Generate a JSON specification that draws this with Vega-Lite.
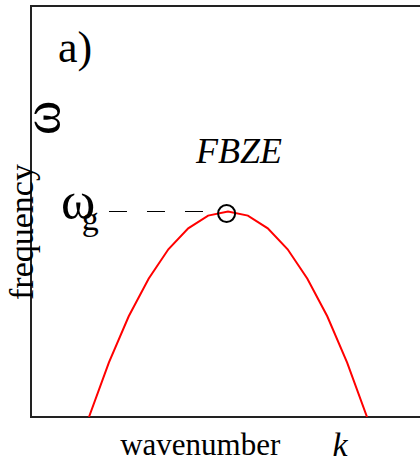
{
  "$schema": "https://vega.github.io/schema/vega-lite/v6.json",
  "autosize": "none",
  "padding": {"left": 31, "top": 6, "right": 0, "bottom": 44},
  "width": 394,
  "height": 411,
  "config": {
    "view": {"stroke": "#222", "strokeWidth": 2},
    "text": {"font": "Liberation Serif", "color": "black"}
  },
  "datasets": {
    "curve": [
      {"k": -1.0, "omega": 0.0},
      {"k": -0.857, "omega": 0.265},
      {"k": -0.714, "omega": 0.49},
      {"k": -0.571, "omega": 0.673},
      {"k": -0.429, "omega": 0.816},
      {"k": -0.286, "omega": 0.918},
      {"k": -0.143, "omega": 0.98},
      {"k": 0.0, "omega": 1.0},
      {"k": 0.143, "omega": 0.98},
      {"k": 0.286, "omega": 0.918},
      {"k": 0.429, "omega": 0.816},
      {"k": 0.571, "omega": 0.673},
      {"k": 0.714, "omega": 0.49},
      {"k": 0.857, "omega": 0.265},
      {"k": 1.0, "omega": 0.0}
    ],
    "edge": [{"k": -0.01, "omega": 0.99}],
    "guide": [{"k0": -0.856, "k1": -0.07, "omega": 1.0}],
    "labels": [
      {"text": "a)", "k": -1.1, "omega": 1.727, "kind": "panel"},
      {"text": "ω", "k": -1.079, "omega": 0.968, "kind": "symbol"},
      {"text": "g", "k": -0.99, "omega": 0.91, "kind": "sub"},
      {"text": "wavenumber", "k": -0.2, "omega": -0.185, "kind": "xtitle"},
      {"text": "FBZE", "k": 0.079, "omega": 1.236, "kind": "edge"},
      {"text": "k", "k": 0.806, "omega": -0.19, "kind": "var"},
      {"text": "ω", "k": -1.331, "omega": 1.455, "kind": "vsymbol"},
      {"text": "frequency", "k": -1.475, "omega": 0.9, "kind": "ytitle"}
    ]
  },
  "encoding": {
    "x": {"field": "k", "type": "quantitative", "scale": {"domain": [-1.417, 1.417], "nice": false, "zero": false}, "axis": null},
    "y": {"field": "omega", "type": "quantitative", "scale": {"domain": [0, 2], "nice": false}, "axis": null}
  },
  "layer": [
    {
      "data": {"name": "curve"},
      "mark": {"type": "line", "color": "#ff0000", "strokeWidth": 2, "clip": true}
    },
    {
      "data": {"name": "guide"},
      "mark": {"type": "rule", "color": "black", "strokeWidth": 1, "strokeDash": [18, 20]},
      "encoding": {
        "x": {"field": "k0", "type": "quantitative"},
        "x2": {"field": "k1"},
        "y": {"field": "omega", "type": "quantitative"}
      }
    },
    {
      "data": {"name": "edge"},
      "mark": {"type": "point", "shape": "circle", "size": 290, "filled": false, "stroke": "black", "strokeWidth": 2, "opacity": 1}
    },
    {
      "data": {"name": "labels"},
      "transform": [{"filter": "datum.kind === 'panel'"}],
      "mark": {"type": "text", "align": "center", "baseline": "alphabetic", "fontSize": 44},
      "encoding": {"text": {"field": "text"}}
    },
    {
      "data": {"name": "labels"},
      "transform": [{"filter": "datum.kind === 'symbol'"}],
      "mark": {"type": "text", "align": "center", "baseline": "alphabetic", "fontSize": 52},
      "encoding": {"text": {"field": "text"}}
    },
    {
      "data": {"name": "labels"},
      "transform": [{"filter": "datum.kind === 'sub'"}],
      "mark": {"type": "text", "align": "center", "baseline": "alphabetic", "fontSize": 34},
      "encoding": {"text": {"field": "text"}}
    },
    {
      "data": {"name": "labels"},
      "transform": [{"filter": "datum.kind === 'xtitle'"}],
      "mark": {"type": "text", "align": "center", "baseline": "alphabetic", "fontSize": 31},
      "encoding": {"text": {"field": "text"}}
    },
    {
      "data": {"name": "labels"},
      "transform": [{"filter": "datum.kind === 'edge'"}],
      "mark": {"type": "text", "align": "center", "baseline": "alphabetic", "fontSize": 36, "fontStyle": "italic"},
      "encoding": {"text": {"field": "text"}}
    },
    {
      "data": {"name": "labels"},
      "transform": [{"filter": "datum.kind === 'var'"}],
      "mark": {"type": "text", "align": "center", "baseline": "alphabetic", "fontSize": 34, "fontStyle": "italic"},
      "encoding": {"text": {"field": "text"}}
    },
    {
      "data": {"name": "labels"},
      "transform": [{"filter": "datum.kind === 'vsymbol'"}],
      "mark": {"type": "text", "align": "center", "baseline": "middle", "angle": 270, "fontSize": 52},
      "encoding": {"text": {"field": "text"}}
    },
    {
      "data": {"name": "labels"},
      "transform": [{"filter": "datum.kind === 'ytitle'"}],
      "mark": {"type": "text", "align": "center", "baseline": "middle", "angle": 270, "fontSize": 34},
      "encoding": {"text": {"field": "text"}}
    }
  ]
}
